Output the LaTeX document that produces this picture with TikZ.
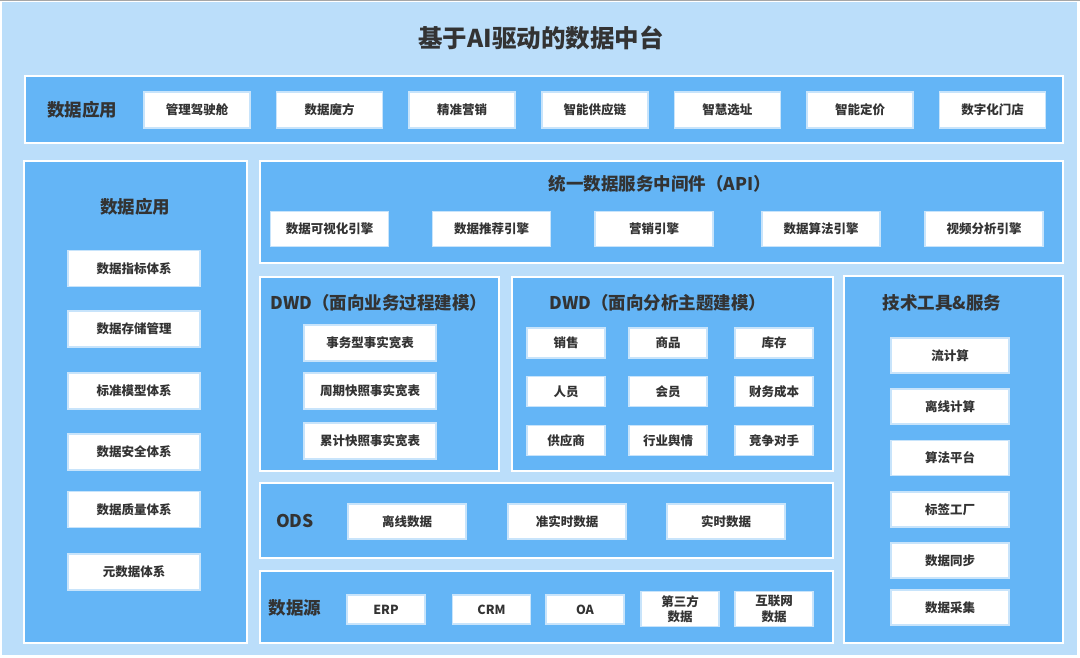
\documentclass[tikz,border=0pt]{standalone}
\usepackage{fontspec}
\setmainfont{Noto Sans CJK SC}
\usetikzlibrary{positioning}
\definecolor{bgblue}{HTML}{BBDEFA}
\definecolor{panelblue}{HTML}{64B5F6}
\definecolor{txt}{HTML}{333333}
\definecolor{boxedge}{HTML}{C8E4FB}
\tikzset{
  panel/.style={draw=white, line width=1.5pt, fill=panelblue, inner sep=0pt},
  wbox/.style={draw=boxedge, line width=1.5pt, fill=white, inner sep=0pt, text=txt, font=\bfseries\fontsize{12.5}{15.5}\selectfont, align=center},
  ptitle/.style={text=txt, font=\bfseries\fontsize{17.5}{20}\selectfont, inner sep=0pt},
}
\begin{document}
\begin{tikzpicture}[x=1pt,y=-1pt]
\useasboundingbox (0,0) rectangle (1080,658);
\fill[white] (0,0) rectangle (1080,658);
\fill[bgblue] (2,2) rectangle (1077,655);
\draw[gray!70, line width=1.5pt] (0,0.75) -- (1080,0.75);
\node[text=txt, font=\bfseries\fontsize{24.5}{28}\selectfont, inner sep=0pt] (title) at (541,38) {基于AI驱动的数据中台};

% top application layer
\node[panel, minimum width=1038, minimum height=67] (app) at (544,109.5) {};
\node[ptitle] (appT) at (82,110) {数据应用};
\foreach \t [count=\i from 0] in {管理驾驶舱,数据魔方,精准营销,智能供应链,智慧选址,智能定价,数字化门店}{
  \node[wbox, minimum width=106, minimum height=36] (app\i) at ({197+132.6*\i},110) {\t};
}

% left panel
\node[panel, minimum width=223, minimum height=482] (left) at (135.5,402) {};
\node[ptitle] (leftT) at (135,207) {数据应用};
\foreach \t/\y [count=\i] in {数据指标体系/268.5,数据存储管理/329,标准模型体系/391,数据安全体系/452,数据质量体系/509.5,元数据体系/572}{
  \node[wbox, minimum width=132, minimum height=36] (left\i) at (134,\y) {\t};
}

% API panel
\node[panel, minimum width=803, minimum height=102] (api) at (661.5,212) {};
\node[ptitle] (apiT) at (660,184) {统一数据服务中间件（API）};
\foreach \t/\x [count=\i] in {数据可视化引擎/329.5,数据推荐引擎/491.5,营销引擎/654,数据算法引擎/821,视频分析引擎/984}{
  \node[wbox, minimum width=118, minimum height=35] (api\i) at (\x,229) {\t};
}

% DWD business process
\node[panel, minimum width=239, minimum height=194] (dwdA) at (379.5,374) {};
\node[ptitle] (dwdAT) at (379,303) {DWD（面向业务过程建模）};
\foreach \t/\y [count=\i] in {事务型事实宽表/343,周期快照事实宽表/391,累计快照事实宽表/441}{
  \node[wbox, minimum width=132, minimum height=36] (dwdA\i) at (370,\y) {\t};
}

% DWD analysis subject
\node[panel, minimum width=321, minimum height=194] (dwdB) at (672.5,374) {};
\node[ptitle] (dwdBT) at (658,303) {DWD（面向分析主题建模）};
\node[wbox, minimum width=78, minimum height=30] (b11) at (566,343) {销售};
\node[wbox, minimum width=78, minimum height=30] (b12) at (668,343) {商品};
\node[wbox, minimum width=78, minimum height=30] (b13) at (774,343) {库存};
\node[wbox, minimum width=78, minimum height=30] (b21) at (566,391.5) {人员};
\node[wbox, minimum width=78, minimum height=30] (b22) at (668,391.5) {会员};
\node[wbox, minimum width=78, minimum height=30] (b23) at (774,391.5) {财务成本};
\node[wbox, minimum width=78, minimum height=30] (b31) at (566,440.5) {供应商};
\node[wbox, minimum width=78, minimum height=30] (b32) at (668,440.5) {行业舆情};
\node[wbox, minimum width=78, minimum height=30] (b33) at (774,440.5) {竞争对手};

% ODS
\node[panel, minimum width=573, minimum height=75] (ods) at (546.5,520.5) {};
\node[ptitle] (odsT) at (295,521) {ODS};
\node[wbox, minimum width=118, minimum height=35] (ods1) at (407,521.5) {离线数据};
\node[wbox, minimum width=118, minimum height=35] (ods2) at (567,521.5) {准实时数据};
\node[wbox, minimum width=118, minimum height=35] (ods3) at (726,521.5) {实时数据};

% data source
\node[panel, minimum width=573, minimum height=72] (src) at (546.5,607) {};
\node[ptitle] (srcT) at (295,608) {数据源};
\node[wbox, minimum width=78, minimum height=29] (src1) at (386,609.5) {ERP};
\node[wbox, minimum width=78, minimum height=29] (src2) at (491.5,609.5) {CRM};
\node[wbox, minimum width=78, minimum height=29] (src3) at (585,609.5) {OA};
\node[wbox, minimum width=78, minimum height=35] (src4) at (680,609) {第三方\\数据};
\node[wbox, minimum width=78, minimum height=35] (src5) at (774,609) {互联网\\数据};

% tools & services
\node[panel, minimum width=219, minimum height=367] (tool) at (953.5,459.5) {};
\node[ptitle] (toolT) at (942,303) {技术工具\&服务};
\foreach \t/\y [count=\i] in {流计算/355.5,离线计算/406.5,算法平台/458,标签工厂/509.5,数据同步/560.5,数据采集/607.5}{
  \node[wbox, minimum width=118, minimum height=35] (tool\i) at (950,\y) {\t};
}
\end{tikzpicture}
\end{document}
